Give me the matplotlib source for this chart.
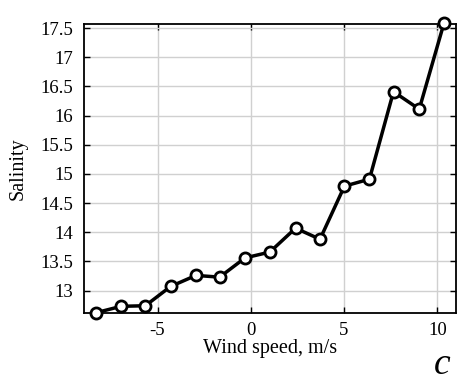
import matplotlib
matplotlib.use("Agg")
import matplotlib.pyplot as plt

# wind speed (m/s) and salinity
wind = [-8.30, -6.95, -5.65, -4.30, -2.94, -1.67, -0.31, 1.02, 2.40, 3.71,
        5.02, 6.36, 7.65, 9.03, 10.36]
salinity = [12.62, 12.73, 12.74, 13.07, 13.26, 13.23, 13.56, 13.66, 14.07, 13.88,
            14.79, 14.91, 16.41, 16.11, 17.59]

xticks = [-5, 0, 5, 10]
yticks = [13, 13.5, 14, 14.5, 15, 15.5, 16, 16.5, 17, 17.5]
yticklabels = ["13", "13.5", "14", "14.5", "15", "15.5", "16", "16.5", "17", "17.5"]

plt.rcParams['font.family'] = ['Liberation Serif', 'DejaVu Serif']

fig = plt.figure(figsize=(4.6, 3.86), dpi=100)
ax = fig.add_axes([0.1826, 0.1883, 0.8087, 0.7495])

ax.plot(wind, salinity, color='black', lw=2.5, marker='o', ms=8,
        mfc='white', mec='black', mew=2, clip_on=False, zorder=3)

ax.set_xlim(-8.94, 11.0)
ax.set_ylim(12.61, 17.57)
ax.set_xticks(xticks)
ax.set_xticklabels([str(t) for t in xticks])
ax.set_yticks(yticks)
ax.set_yticklabels(yticklabels)

ax.grid(True, color='#d0d0d0', lw=1.0)
ax.set_axisbelow(True)
ax.tick_params(direction='in', length=4, width=1, top=True, right=True,
               labelsize=13.5)
ax.tick_params(axis='y', pad=8)
ax.tick_params(axis='x', pad=6)
for s in ax.spines.values():
    s.set_linewidth(1.3)

ax.set_xlabel("Wind speed, m/s", fontsize=14.5, labelpad=0)
ax.set_ylabel("Salinity", fontsize=14.5, labelpad=9)

# panel letter
fig.text(0.962, 0.055, "c", fontsize=27, style='italic', ha='center', va='center')

fig.savefig("out.png", dpi=100)
